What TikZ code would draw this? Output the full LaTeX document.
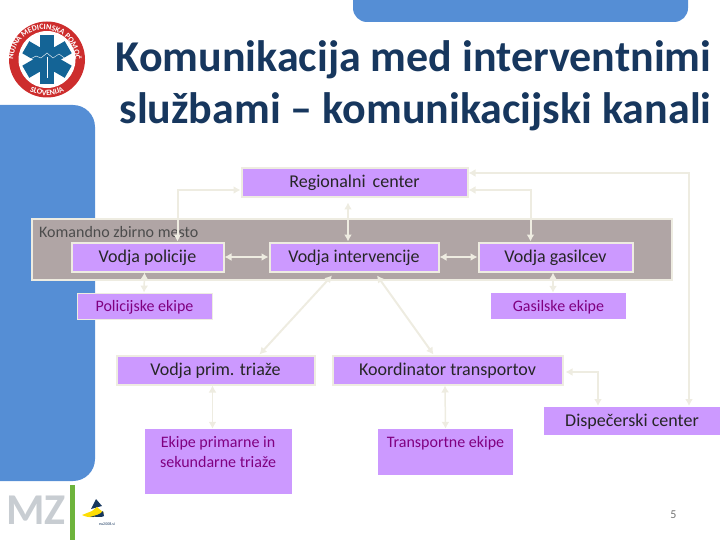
\documentclass[tikz,border=0pt]{standalone}
\usepackage{fontspec}
\usepackage{xcolor}
\setmainfont{Carlito}
\usetikzlibrary{arrows.meta,calc,decorations.text}
\definecolor{AzulFondo}{RGB}{85,142,213}
\definecolor{AzulTitulo}{RGB}{23,55,94}
\definecolor{AzulCruz}{RGB}{20,100,150}
\definecolor{RojoAnillo}{RGB}{205,45,45}
\definecolor{Lila}{RGB}{204,153,255}
\definecolor{Gris}{RGB}{176,165,165}
\definecolor{Crema}{RGB}{238,236,225}
\definecolor{Morado}{RGB}{128,0,128}
\definecolor{GrisMZ}{RGB}{200,205,210}
\definecolor{VerdeBarra}{RGB}{110,180,60}
\tikzset{
  caja/.style={draw=Crema,line width=2pt,fill=Lila,inner sep=0pt,text height=11pt,text depth=1pt,font=\fontsize{18}{21}\selectfont,text=black!85},
  equipo/.style={fill=Lila,inner sep=0pt,font=\fontsize{16}{20}\selectfont,text=Morado,align=center},
  linea/.style={text height=10pt,text depth=0pt},
  enlace/.style={draw=Crema,line width=2pt,{Latex[length=7pt,width=8pt]}-{Latex[length=7pt,width=8pt]}},
}
\begin{document}
\begin{tikzpicture}[x=1pt,y=-1pt]
  \useasboundingbox (0,0) rectangle (720,540);
  % fondo
  \fill[AzulFondo,rounded corners=22pt] (-40,105) rectangle (95,481);
  \fill[AzulFondo,rounded corners=14pt] (353,-40) rectangle (688,22);

  % logo
  \fill[RojoAnillo] (47,59.5) circle (38);
  \fill[white] (47,59.5) circle (28.5);
  \foreach \a in {0,60,-60}
    \fill[AzulCruz,rotate around={\a:(47,59.5)}] (40,35) rectangle (54,84);
  \draw[white,thin] (27,61) -- (36,56) -- (41,58) -- (47,53) -- (53,58) -- (59,54) -- (67,60);
  \draw[white,line width=0.8pt] (47,57) -- (47,78);
  \path[postaction={decorate,decoration={text along path,text align=center,
    text={|\fontsize{8}{8}\selectfont\bfseries\color{white}|NUJNA MEDICINSKA POMOČ}}}]
    (15,70.5) arc[start angle=161,end angle=379,radius=31];
  \path[postaction={decorate,decoration={text along path,text align=center,
    text={|\fontsize{8}{8}\selectfont\bfseries\color{white}|SLOVENIJA}}}]
    (22,85.4) arc[start angle=134,end angle=46,radius=36];

  % titulo
  \node[font=\fontsize{44}{50}\selectfont\bfseries,text=AzulTitulo,anchor=base] (tit1) at (413.5,72) {Komunikacija med interventnimi};
  \node[font=\fontsize{44}{50}\selectfont\bfseries,text=AzulTitulo,anchor=base] (tit2) at (415.5,124) {službami – komunikacijski kanali};

  % cajas
  \node[draw=Crema,line width=2pt,fill=Gris,minimum width=640pt,minimum height=60pt] (puesto) at (351.5,249.5) {};
  \node[anchor=north west,inner sep=0pt,font=\fontsize{16}{19}\selectfont,text=black!70] (puestotxt) at (39,226) {Komandno zbirno mesto};
  \node[caja,minimum width=226pt,minimum height=29pt] (regional) at (354.5,183) {Regionalni\, center};
  \node[caja,minimum width=152pt,minimum height=29pt] (policia) at (147.5,257) {Vodja policije};
  \node[caja,minimum width=169pt,minimum height=29pt] (interv) at (354,257) {Vodja intervencije};
  \node[caja,minimum width=154pt,minimum height=29pt] (gasil) at (555.5,257) {Vodja gasilcev};
  \node[equipo,linea,draw=Crema,line width=.75pt,minimum width=135pt,minimum height=26pt] (epolicia) at (144.5,306) {Policijske ekipe};
  \node[equipo,linea,minimum width=135pt,minimum height=26pt] (egasil) at (558.5,306) {Gasilske ekipe};
  \node[caja,minimum width=198pt,minimum height=29pt] (triaza) at (215.5,370) {Vodja prim. triaže};
  \node[caja,minimum width=230pt,minimum height=29pt] (koord) at (447.5,370) {Koordinator transportov};
  \node[caja,draw=none,minimum width=176pt,minimum height=28pt] (dispec) at (632,421) {Dispečerski center};
  \node[equipo,minimum width=147pt,minimum height=65pt] (etriaza) at (218,461.5) {Ekipe primarne in\\sekundarne triaže\\ };
  \node[equipo,minimum width=135pt,minimum height=46pt] (etrans) at (445.5,452) {Transportne ekipe\\ };

  % enlaces
  \draw[enlace] ([xshift=30pt]policia.north) |- ([yshift=-7pt]regional.west);
  \draw[enlace] (regional.south -| interv.north) ++(-6,4) -- ([xshift=-6pt]interv.north);
  \draw[enlace] (policia) -- (interv);
  \draw[enlace] (interv) -- (gasil);
  \draw[enlace] ([yshift=-7pt]regional.east) -| ([xshift=-25pt]gasil.north);
  \draw[enlace] ([yshift=10pt]regional.east) -| ([xshift=57pt]dispec.north);
  \draw[enlace,line width=1.5pt] ([xshift=-3pt]policia.south) -- ([xshift=-0.5pt]epolicia.north);
  \draw[enlace,line width=1.5pt] ([xshift=-2.5pt]gasil.south) -- ([xshift=-5.5pt]egasil.north);
  \draw[enlace] ([xshift=23pt,yshift=-3pt]interv.south) -- ([xshift=-14pt]koord.north);
  \draw[enlace] ([xshift=-22pt,yshift=-3pt]interv.south) -- ([xshift=44pt]triaza.north);
  \draw[enlace,line width=1.5pt] ([xshift=-3pt]triaza.south) -- ([xshift=-5.5pt]etriaza.north);
  \draw[enlace,line width=1.5pt] ([xshift=-2.5pt]koord.south) -- (etrans.north);
  \draw[enlace] ([yshift=-2pt,xshift=2pt]koord.east) -| ([xshift=-34pt]dispec.north);

  % pie
  \node[font=\fontsize{44}{44}\selectfont\bfseries,text=GrisMZ,inner sep=0pt] (mz) at (36,510) {MZ};
  \fill[VerdeBarra] (70,485) rectangle (75,540);
  \fill[AzulTitulo] (96,499) -- (102,506) -- (91,509) -- cycle;
  \fill[yellow!80!orange] (82,515) .. controls (90,519) and (98,517) .. (104,513) -- (97,507) -- (92,511) -- cycle;
  \fill[AzulTitulo] (90,517) .. controls (96,516) and (102,518) .. (104,516) -- (103,511) .. controls (100,515) and (96,515) .. (90,517);
  \node[font=\fontsize{4}{4}\selectfont,text=AzulTitulo,inner sep=0pt] (web) at (107,524) {eu2008.si};
  \node[font=\fontsize{12}{14}\selectfont,text=black!55,inner sep=0pt] (pag) at (673.5,515) {5};
\end{tikzpicture}
\end{document}
